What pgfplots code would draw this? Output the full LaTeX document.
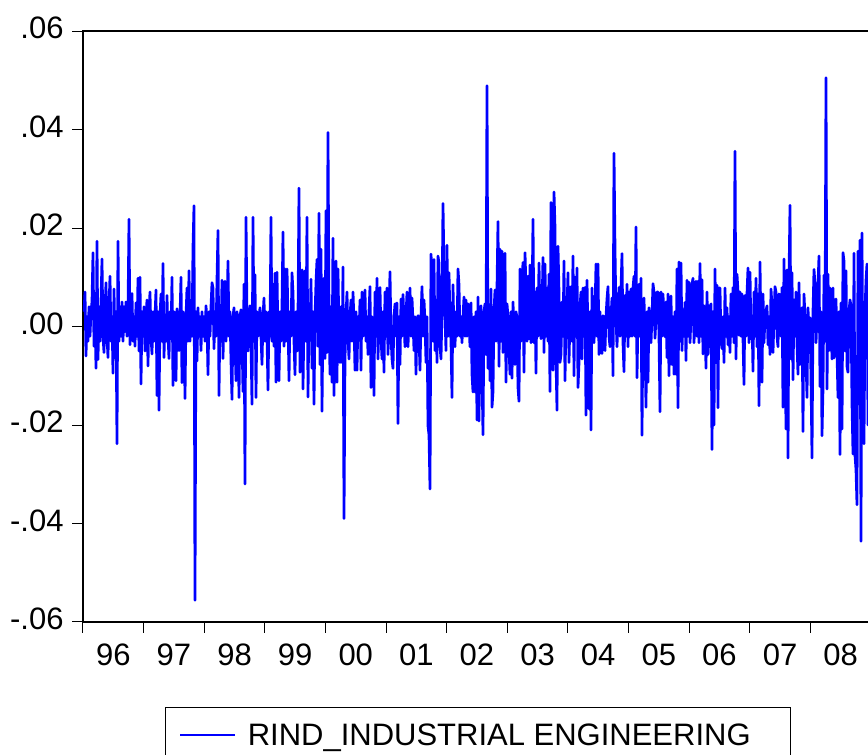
\documentclass[border=0pt]{standalone}
\usepackage{fontspec}
\setmainfont{Liberation Sans}
\usepackage{pgfplots}
\pgfplotsset{compat=1.18}
\begin{document}
\begin{tikzpicture}
% page frame; the series runs up to the right edge of the page
\path[use as bounding box, clip] (0,0) rectangle (868pt,755pt);
\begin{axis}[
  at={(83pt,133pt)}, anchor=south west,
  scale only axis, width=788pt, height=591pt,
  xmin=1996, xmax=2009, ymin=-0.06, ymax=0.06,
  axis line style={line width=1.6pt},
  xtick={1996,...,2009},
  x tick label as interval,
  xticklabels={96,97,98,99,00,01,02,03,04,05,06,07,08},
  minor x tick num=3,
  ytick={-0.06,-0.04,-0.02,0,0.02,0.04,0.06},
  yticklabels={-.06,-.04,-.02,.00,.02,.04,.06},
  scaled y ticks=false,
  tick align=outside, xtick pos=bottom, ytick pos=left,
  major tick length=11pt, minor tick length=7pt,
  tick style={line width=1pt, black},
  ticklabel style={font=\fontsize{31}{31}\selectfont},
  xticklabel style={yshift=-7pt},
  yticklabel style={xshift=-5pt, yshift=3pt},
  legend style={at={(0.104,-0.1438)}, anchor=north west, draw=black,
    line width=0.8pt, font=\fontsize{31}{31}\selectfont,
    inner xsep=14pt, inner ysep=14pt},
  legend cell align=left,
  legend image code/.code={\draw[line width=1.4pt, blue] (0pt,0pt) -- (55pt,0pt);},
]
% daily returns, one observation per trading period, dated in years
\addplot[blue, line width=2.7pt, line join=round, mark=none]
  table[row sep=\\, x expr=1996.0165+\coordindex/60.615, y=r] {
r\\
0.003\\ 0.007\\ -0.006\\ 0.002\\ -0.003\\ 0.004\\ -0.002\\ 0.003\\ 0.005\\ 0.015\\
-0.004\\ 0.003\\ -0.0085\\ 0.0173\\ -0.0067\\ 0.004\\ -0.003\\ 0.005\\ 0.0137\\ -0.002\\
-0.0053\\ 0.003\\ 0.0089\\ -0.002\\ -0.0063\\ 0.004\\ 0.0102\\ -0.003\\ 0.002\\ -0.0095\\
0.0076\\ -0.004\\ 0.003\\ -0.0238\\ 0.0173\\ -0.003\\ 0.004\\ -0.002\\ 0.005\\ -0.003\\
0.004\\ -0.001\\ 0.005\\ -0.002\\ 0.003\\ 0.0218\\ -0.0037\\ 0.002\\ 0.0067\\ -0.003\\
0.002\\ -0.004\\ 0.0048\\ -0.002\\ 0.0098\\ -0.005\\ 0.010\\ -0.0117\\ 0.003\\ -0.002\\
0.004\\ -0.005\\ 0.002\\ 0.0054\\ -0.008\\ 0.003\\ 0.007\\ -0.002\\ -0.0056\\ 0.003\\
-0.003\\ 0.002\\ 0.0074\\ -0.014\\ 0.003\\ -0.017\\ 0.002\\ 0.0066\\ -0.003\\ 0.0128\\
-0.0063\\ 0.002\\ -0.003\\ 0.0063\\ -0.002\\ -0.0065\\ 0.003\\ -0.002\\ 0.010\\ -0.012\\
0.003\\ 0.002\\ -0.011\\ 0.0036\\ 0.001\\ -0.0049\\ 0.002\\ 0.010\\ -0.0114\\ 0.003\\
0.002\\ -0.0146\\ 0.002\\ 0.0078\\ -0.003\\ 0.0113\\ -0.003\\ 0.004\\ -0.002\\ 0.016\\
0.0245\\ -0.0556\\ 0.003\\ -0.007\\ 0.0038\\ -0.002\\ 0.002\\ -0.0049\\ 0.003\\ -0.002\\
0.002\\ -0.003\\ 0.0042\\ 0.001\\ -0.0098\\ 0.003\\ -0.002\\ 0.004\\ 0.0089\\ 0.0078\\
-0.0045\\ 0.003\\ -0.002\\ 0.0094\\ 0.0195\\ -0.014\\ 0.003\\ -0.003\\ 0.0094\\ -0.0065\\
0.002\\ 0.0092\\ -0.003\\ 0.002\\ 0.0133\\ -0.002\\ 0.003\\ -0.007\\ -0.0148\\ 0.002\\
0.0038\\ -0.003\\ -0.011\\ 0.003\\ 0.001\\ -0.0144\\ 0.002\\ 0.0034\\ -0.002\\ -0.0132\\
0.0086\\ -0.032\\ 0.0222\\ 0.002\\ -0.005\\ 0.001\\ 0.0042\\ -0.003\\ -0.0158\\ 0.0222\\
-0.003\\ 0.0105\\ -0.0144\\ 0.003\\ -0.002\\ 0.002\\ 0.0038\\ -0.002\\ -0.0077\\ 0.002\\
0.0058\\ -0.003\\ 0.003\\ -0.002\\ -0.0129\\ 0.003\\ -0.002\\ 0.0222\\ -0.003\\ 0.0086\\
-0.004\\ 0.0108\\ -0.0113\\ 0.011\\ -0.003\\ -0.011\\ 0.003\\ -0.003\\ 0.004\\ 0.0192\\
-0.004\\ 0.0117\\ -0.003\\ 0.0117\\ 0.002\\ -0.011\\ 0.003\\ -0.002\\ 0.0109\\ 0.007\\
-0.003\\ -0.0098\\ 0.003\\ -0.005\\ 0.002\\ 0.0281\\ -0.0093\\ 0.003\\ 0.0115\\ -0.0127\\
0.002\\ 0.0113\\ -0.003\\ 0.0222\\ -0.0143\\ 0.003\\ -0.002\\ 0.0096\\ -0.0085\\ 0.003\\
-0.0158\\ 0.002\\ 0.009\\ 0.0136\\ -0.004\\ 0.023\\ -0.0077\\ 0.0157\\ -0.0172\\ 0.003\\
0.0098\\ -0.0065\\ 0.0235\\ -0.0053\\ 0.0394\\ 0.003\\ -0.0097\\ 0.004\\ -0.0113\\ 0.0179\\
-0.014\\ 0.003\\ 0.0133\\ -0.0113\\ 0.0117\\ -0.002\\ -0.0073\\ 0.004\\ -0.0073\\ 0.0121\\
-0.039\\ -0.0066\\ 0.002\\ 0.007\\ -0.002\\ -0.0066\\ 0.002\\ 0.0054\\ -0.003\\ 0.007\\
0.001\\ -0.0089\\ 0.003\\ -0.0089\\ 0.002\\ -0.002\\ 0.0054\\ -0.0089\\ 0.007\\ -0.002\\
0.002\\ 0.0074\\ -0.003\\ 0.002\\ -0.0057\\ 0.003\\ 0.0081\\ -0.0124\\ 0.002\\ -0.003\\
-0.014\\ 0.007\\ -0.002\\ 0.0098\\ -0.0066\\ 0.002\\ 0.0079\\ -0.002\\ -0.0066\\ 0.003\\
-0.0093\\ 0.007\\ -0.002\\ 0.0078\\ -0.0057\\ 0.002\\ 0.0111\\ -0.002\\ -0.0066\\ -0.0085\\
0.002\\ 0.0046\\ -0.002\\ 0.0048\\ -0.0197\\ 0.002\\ -0.0077\\ 0.0056\\ -0.002\\ 0.0065\\
0.001\\ -0.0041\\ 0.002\\ 0.007\\ -0.0041\\ 0.002\\ 0.0078\\ -0.002\\ 0.0058\\ 0.001\\
-0.0049\\ 0.002\\ -0.0097\\ 0.001\\ 0.0022\\ -0.002\\ -0.0089\\ 0.002\\ 0.0081\\ -0.002\\
0.0054\\ 0.001\\ -0.0073\\ 0.002\\ -0.0202\\ -0.022\\ -0.033\\ 0.0147\\ 0.0111\\ -0.003\\
0.0136\\ -0.0049\\ 0.003\\ -0.0073\\ 0.0143\\ 0.0129\\ -0.004\\ -0.0066\\ 0.003\\ 0.025\\
0.0117\\ 0.002\\ -0.0049\\ 0.0165\\ -0.002\\ 0.0109\\ 0.002\\ -0.003\\ -0.0144\\ 0.0085\\
-0.002\\ -0.0041\\ 0.003\\ -0.002\\ 0.0117\\ 0.0085\\ -0.002\\ 0.002\\ -0.0033\\ 0.002\\
0.006\\ -0.002\\ 0.0054\\ -0.002\\ 0.0046\\ 0.001\\ -0.0041\\ 0.0048\\ -0.0097\\ -0.0133\\
0.002\\ -0.0133\\ 0.003\\ -0.019\\ 0.006\\ -0.0192\\ 0.002\\ 0.0042\\ -0.0093\\ -0.022\\
0.003\\ 0.0046\\ -0.0057\\ 0.0489\\ -0.0085\\ 0.003\\ -0.011\\ 0.0076\\ -0.0164\\ -0.0133\\
0.003\\ 0.0074\\ -0.003\\ 0.0078\\ 0.0213\\ -0.0081\\ 0.0157\\ -0.003\\ 0.0153\\ -0.0053\\
0.003\\ 0.0149\\ -0.0113\\ 0.0046\\ 0.002\\ -0.0045\\ -0.0097\\ 0.003\\ -0.0105\\ 0.005\\
-0.002\\ -0.0077\\ 0.003\\ 0.0018\\ -0.0124\\ -0.0152\\ 0.0117\\ -0.003\\ 0.0089\\ 0.013\\
-0.0093\\ 0.015\\ 0.0078\\ -0.003\\ 0.0102\\ -0.0025\\ 0.0125\\ -0.0033\\ 0.004\\ 0.0218\\
-0.0033\\ 0.007\\ -0.0095\\ 0.0078\\ -0.002\\ 0.0129\\ 0.002\\ -0.0025\\ 0.003\\ 0.014\\
-0.0053\\ 0.0127\\ -0.002\\ 0.0078\\ -0.003\\ 0.0106\\ -0.0132\\ 0.0252\\ 0.016\\ -0.0089\\
0.0273\\ 0.020\\ -0.0069\\ -0.017\\ 0.0163\\ 0.007\\ -0.0073\\ -0.0057\\ 0.005\\ -0.002\\
0.0133\\ -0.011\\ 0.002\\ 0.0038\\ 0.0109\\ -0.0073\\ 0.002\\ 0.0081\\ -0.003\\ 0.0143\\
-0.010\\ 0.010\\ -0.002\\ 0.0119\\ -0.0124\\ -0.0073\\ 0.004\\ 0.007\\ -0.0066\\ 0.0078\\
-0.002\\ 0.0079\\ -0.018\\ 0.0094\\ -0.002\\ -0.0167\\ 0.003\\ -0.021\\ 0.0078\\ -0.002\\
-0.0033\\ 0.003\\ 0.0127\\ -0.002\\ 0.0127\\ -0.0057\\ 0.003\\ -0.002\\ -0.0055\\ 0.0022\\
0.001\\ -0.0049\\ 0.002\\ 0.0056\\ 0.0081\\ -0.002\\ -0.0041\\ 0.002\\ 0.0058\\ -0.010\\
0.0352\\ 0.0159\\ 0.002\\ -0.0041\\ 0.002\\ 0.0079\\ -0.002\\ 0.0078\\ 0.0148\\ -0.0033\\
-0.0092\\ 0.0063\\ -0.002\\ 0.0086\\ -0.0041\\ 0.007\\ -0.002\\ 0.0076\\ -0.002\\ 0.0078\\
0.0102\\ -0.002\\ 0.0202\\ -0.0104\\ 0.002\\ 0.0086\\ -0.002\\ 0.0098\\ -0.0221\\ 0.002\\
0.0058\\ -0.0029\\ -0.0164\\ 0.003\\ -0.0113\\ 0.0038\\ 0.001\\ -0.0033\\ 0.002\\ 0.0087\\
0.007\\ -0.0024\\ 0.002\\ 0.007\\ 0.007\\ -0.002\\ -0.0173\\ 0.007\\ -0.002\\ 0.0066\\
0.001\\ -0.0021\\ 0.005\\ -0.0063\\ 0.0066\\ -0.010\\ 0.003\\ 0.0062\\ -0.0077\\ 0.002\\
-0.0097\\ 0.003\\ -0.0097\\ 0.0117\\ -0.0165\\ 0.0131\\ -0.003\\ 0.0129\\ -0.0049\\ 0.0034\\
-0.002\\ 0.0049\\ -0.0069\\ 0.0094\\ -0.002\\ 0.009\\ -0.0033\\ 0.002\\ 0.0086\\ 0.0098\\
-0.0033\\ 0.002\\ 0.0092\\ -0.002\\ 0.0092\\ -0.0033\\ 0.0128\\ -0.002\\ 0.0095\\ -0.0056\\
0.0042\\ 0.001\\ -0.0085\\ 0.007\\ -0.0057\\ 0.0042\\ -0.002\\ 0.0046\\ -0.025\\ 0.003\\
-0.020\\ 0.0117\\ -0.0073\\ 0.0084\\ -0.0165\\ 0.0078\\ 0.0078\\ -0.003\\ -0.0045\\ 0.002\\
-0.0073\\ 0.0078\\ -0.002\\ 0.0038\\ -0.0037\\ 0.002\\ -0.0053\\ 0.0066\\ -0.002\\ 0.0079\\
-0.0033\\ 0.0356\\ -0.0066\\ 0.0106\\ 0.0071\\ -0.0018\\ 0.007\\ -0.002\\ 0.0066\\ -0.0025\\
-0.0118\\ 0.0063\\ -0.002\\ 0.0066\\ 0.0119\\ -0.0033\\ 0.011\\ -0.0025\\ 0.002\\ -0.0091\\
0.007\\ -0.002\\ 0.0098\\ -0.0041\\ 0.0066\\ -0.0161\\ 0.0131\\ -0.002\\ -0.0113\\ 0.0066\\
-0.0033\\ 0.002\\ 0.0032\\ 0.0042\\ -0.0037\\ 0.002\\ -0.0057\\ 0.0076\\ 0.0042\\ -0.0053\\
0.002\\ 0.0081\\ 0.007\\ -0.002\\ -0.0041\\ 0.0066\\ 0.0063\\ -0.002\\ 0.0079\\ -0.0164\\
0.0137\\ -0.002\\ -0.0208\\ 0.0115\\ -0.0267\\ 0.0098\\ 0.0246\\ -0.0066\\ 0.0109\\ -0.0108\\
0.0054\\ -0.002\\ 0.007\\ -0.0037\\ -0.0097\\ 0.0089\\ -0.0077\\ 0.002\\ 0.0038\\ -0.0213\\
0.0066\\ 0.002\\ -0.0066\\ -0.0144\\ 0.0038\\ -0.002\\ 0.0018\\ -0.0105\\ -0.0267\\ 0.003\\
0.0116\\ 0.0086\\ -0.0033\\ 0.002\\ 0.0086\\ 0.0143\\ -0.0122\\ 0.003\\ -0.0222\\ -0.0127\\
0.0104\\ -0.003\\ 0.0505\\ -0.0127\\ 0.0106\\ -0.0049\\ 0.0078\\ 0.002\\ -0.0066\\ 0.0078\\
-0.0064\\ 0.002\\ 0.0056\\ -0.0053\\ -0.0144\\ 0.003\\ -0.026\\ 0.0048\\ -0.0208\\ 0.015\\
0.0133\\ -0.005\\ 0.0113\\ -0.0081\\ -0.0093\\ 0.003\\ 0.0054\\ 0.0042\\ -0.0156\\ -0.0259\\
0.0149\\ -0.0262\\ -0.029\\ -0.0362\\ 0.0153\\ -0.010\\ 0.0175\\ -0.0436\\ 0.019\\ -0.021\\
-0.0238\\ 0.003\\ 0.0094\\ 0.0127\\ -0.020\\ 0.005\\
};
\addlegendentry{\hspace*{10pt}RIND\_INDUSTRIAL ENGINEERING\rule{24pt}{0pt}}
\end{axis}
\end{tikzpicture}
\end{document}
